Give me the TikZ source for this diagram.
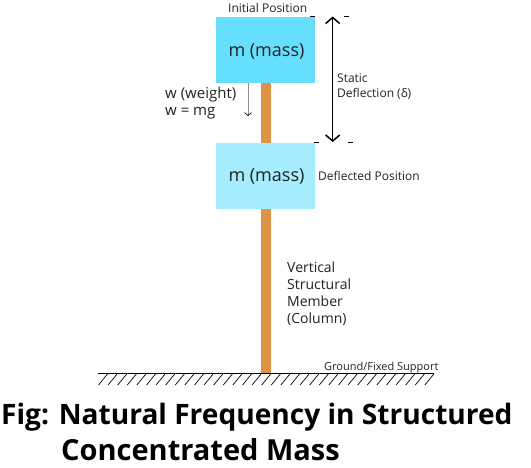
\documentclass[tikz,border=0pt]{standalone}
\usepackage{fontspec}
\setmainfont{Open Sans}
\usetikzlibrary{arrows.meta}
\definecolor{massA}{HTML}{66DFFF}
\definecolor{massB}{HTML}{A6ECFF}
\definecolor{col}{HTML}{DF9144}
\definecolor{ink}{HTML}{222222}
\tikzset{
 massbox/.style={fill=#1,draw=none,minimum width=99pt,minimum height=66pt,inner sep=0pt,font=\fontsize{18}{20}\selectfont,text=ink},
 lab/.style={inner sep=0pt,anchor=west,align=left,text=ink,font=\fontsize{12}{15}\selectfont},
 labb/.style={inner sep=0pt,anchor=west,align=left,text=ink,font=\fontsize{14}{17}\selectfont},
 tick/.style={line width=0.8pt,black},
 titlefont/.style={inner sep=0pt,anchor=west,font=\fontsize{28.1}{30}\selectfont\bfseries,text=black}
}
\begin{document}
\begin{tikzpicture}[x=1pt,y=-1pt]
\useasboundingbox (0,0) rectangle (531,468);
\fill[col] (261,83) rectangle (271,373);
\node[massbox=massA] (m1) at (265.5,50) {};
\node[massbox=massB] (m2) at (265.5,176) {};
\node[inner sep=0pt,text=ink,font=\fontsize{18}{20}\selectfont] (m1t) at (266.5,52) {m (mass)};
\node[inner sep=0pt,text=ink,font=\fontsize{18}{20}\selectfont] (m2t) at (266.5,177) {m (mass)};
\node[lab] (init) at (228,8) {Initial Position};
\node[lab] (defl) at (318,176) {Deflected Position};
\node[lab] (stat) at (337,86.5) {Static\\Deflection (δ)};
\node[labb,font=\fontsize{15}{17}\selectfont] (w) at (165,103) {w (weight)\\w = mg};
\node[labb] (vm) at (287,293.5) {Vertical\\Structural\\Member\\(Column)};
\node[lab,font=\fontsize{11}{12}\selectfont] (gr) at (324,368) {Ground/Fixed Support};
\node[titlefont] (t1) at (1,417) {Fig: Natural Frequency in Structured};
\node[titlefont,font=\fontsize{29}{30}\selectfont\bfseries] (t2) at (61,450) {Concentrated Mass};
\coordinate (a1) at (332.7,16.5);
\coordinate (a2) at (332.7,142);
\draw[line width=1.5pt,black,{Straight Barb[length=6pt,width=14pt,line width=1.5pt]}-{Straight Barb[length=6pt,width=14pt,line width=1.5pt]}] (a1) -- (a2);
\coordinate (b1) at (248,83);
\coordinate (b2) at (248,116);
\draw[line width=1pt,gray!90,-{Straight Barb[length=3pt,width=7pt,line width=0.7pt,black]}] (b1) -- (b2);
\foreach \xa/\xb/\y in {310/315/16.5,344/349/16.5,314/319/142,348/353/142}{
  \draw[tick] (\xa,\y) -- (\xb,\y);
}
\coordinate (g1) at (98,373);
\coordinate (g2) at (434,373);
\draw[line width=0.9pt,black] (g1) -- (g2);
\foreach \i in {0,...,34}{
  \draw[line width=0.7pt,black] ({98.5+9.6*\i},385) -- ({107.5+9.6*\i},374);
}
\end{tikzpicture}
\end{document}
